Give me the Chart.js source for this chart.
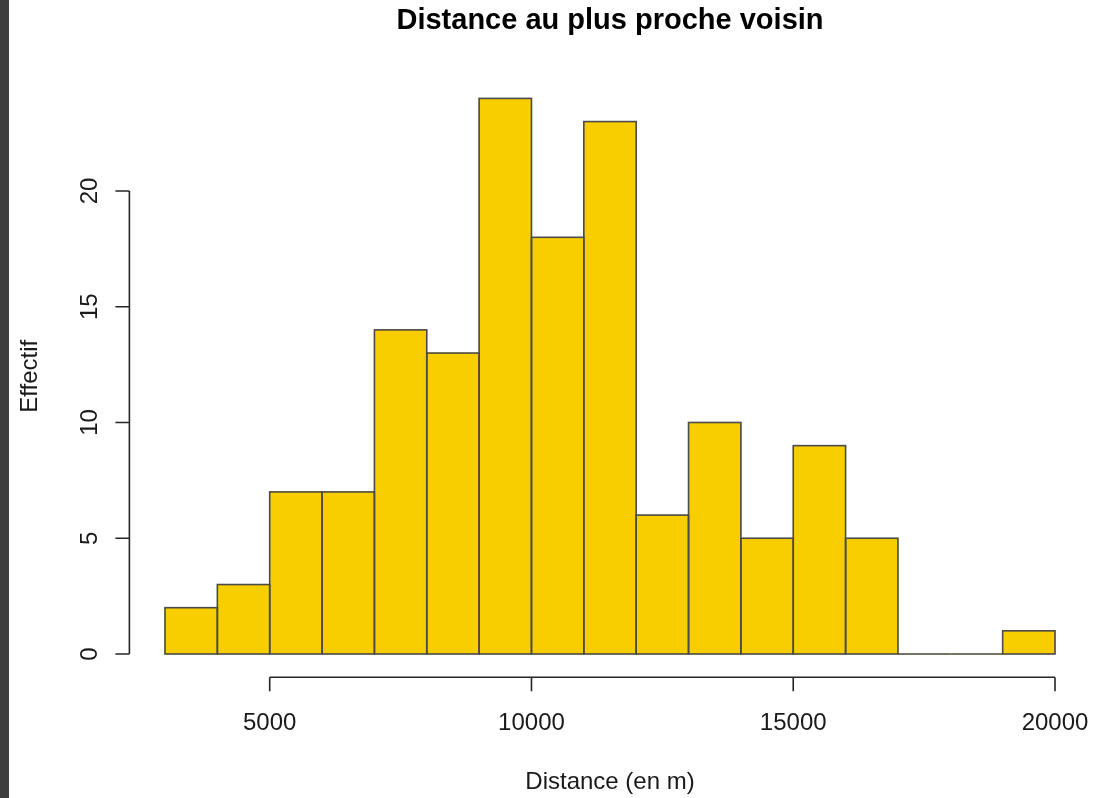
<!DOCTYPE html>
<html lang="fr">
<head>
<meta charset="utf-8">
<title>Distance au plus proche voisin</title>
<script src="https://cdn.jsdelivr.net/npm/chart.js@4/dist/chart.umd.min.js"></script>
<style>
  html, body { margin: 0; padding: 0; background: #ffffff; overflow: hidden; }
  #wrap { position: relative; width: 1094px; height: 798px; }
  #edge { position: absolute; left: 0; top: 0; width: 9px; height: 798px; background: #3e3e3e; }
  canvas { position: absolute; left: 0; top: 0; }
</style>
</head>
<body>
<div id="wrap">
  <canvas id="hist" width="1094" height="798"></canvas>
  <div id="edge"></div>
</div>
<script>
// Histogram classes (metres) and their counts
const binStarts = [3000, 4000, 5000, 6000, 7000, 8000, 9000, 10000, 11000, 12000, 13000, 14000, 15000, 16000, 17000, 18000, 19000];
const binWidth = 1000;
const counts = [2, 3, 7, 7, 14, 13, 24, 18, 23, 6, 10, 5, 9, 5, 0, 0, 1];
const xTicks = [5000, 10000, 15000, 20000];
const yTicks = [0, 5, 10, 15, 20];

const titleText = 'Distance au plus proche voisin';
const xLabel = 'Distance (en m)';
const yLabel = 'Effectif';

const FONT = '"Liberation Sans", Arial, sans-serif';
const INK = '#262626';

// plotting range padded by 4% on each side, as base R graphics does
const xLo = binStarts[0], xHi = binStarts[binStarts.length - 1] + binWidth;
const yLo = 0, yHi = Math.max(...counts);
const xPad = (xHi - xLo) * 0.04, yPad = (yHi - yLo) * 0.04;

const points = binStarts.map((s, i) => ({ x: s + binWidth / 2, y: counts[i] }));

// outlines every bar (including empty classes) and draws R-style axes and labels
const baseAxes = {
  id: 'baseAxes',
  afterDatasetsDraw(chart) {
    const ctx = chart.ctx;
    const xs = chart.scales.x, ys = chart.scales.y;
    const area = chart.chartArea;

    ctx.save();
    ctx.strokeStyle = '#4a4a4a';
    ctx.lineWidth = 1.6;
    chart.getDatasetMeta(0).data.forEach(bar => {
      const p = bar.getProps(['x', 'y', 'base', 'width'], true);
      ctx.strokeRect(p.x - p.width / 2, Math.min(p.y, p.base), p.width, Math.abs(p.base - p.y));
    });
    ctx.restore();

    ctx.save();
    ctx.strokeStyle = INK;
    ctx.lineWidth = 1.6;
    ctx.fillStyle = '#1a1a1a';
    const tick = 14;

    // x axis
    const xb = area.bottom + 1;
    const x0 = xs.getPixelForValue(xTicks[0]);
    const x1 = xs.getPixelForValue(xTicks[xTicks.length - 1]);
    ctx.beginPath();
    ctx.moveTo(x0, xb); ctx.lineTo(x1, xb);
    xTicks.forEach(v => {
      const px = xs.getPixelForValue(v);
      ctx.moveTo(px, xb); ctx.lineTo(px, xb + tick);
    });
    ctx.stroke();
    ctx.font = '24px ' + FONT;
    ctx.textAlign = 'center';
    ctx.textBaseline = 'alphabetic';
    xTicks.forEach(v => ctx.fillText(String(v), xs.getPixelForValue(v), 730));

    // y axis
    const yl = area.left;
    const y0 = ys.getPixelForValue(yTicks[0]);
    const y1 = ys.getPixelForValue(yTicks[yTicks.length - 1]);
    ctx.beginPath();
    ctx.moveTo(yl, y0); ctx.lineTo(yl, y1);
    yTicks.forEach(v => {
      const py = ys.getPixelForValue(v);
      ctx.moveTo(yl, py); ctx.lineTo(yl - tick, py);
    });
    ctx.stroke();
    yTicks.forEach(v => {
      ctx.save();
      ctx.translate(97, ys.getPixelForValue(v));
      ctx.rotate(-Math.PI / 2);
      ctx.fillText(String(v), 0, 0);
      ctx.restore();
    });

    // axis titles
    const cx = (area.left + area.right) / 2;
    const cy = (area.top + area.bottom) / 2;
    ctx.fillText(xLabel, cx, 789);
    ctx.save();
    ctx.translate(37, cy);
    ctx.rotate(-Math.PI / 2);
    ctx.fillText(yLabel, 0, 0);
    ctx.restore();

    // main title
    ctx.font = 'bold 29px ' + FONT;
    ctx.fillStyle = '#000000';
    ctx.fillText(titleText, cx, 29);
    ctx.restore();
  }
};

new Chart(document.getElementById('hist'), {
  type: 'bar',
  data: {
    datasets: [{
      data: points,
      backgroundColor: '#F9CE00',
      borderWidth: 0,
      barPercentage: 1,
      categoryPercentage: 1
    }]
  },
  options: {
    responsive: false,
    animation: false,
    events: [],
    layout: { padding: { left: 129.4, right: 3.4, top: 76.2, bottom: 121.8 } },
    plugins: { legend: { display: false }, tooltip: { enabled: false }, title: { display: false } },
    scales: {
      x: { type: 'linear', min: xLo - xPad, max: xHi + xPad, display: false, offset: false },
      y: { type: 'linear', min: yLo - yPad, max: yHi + yPad, display: false }
    }
  },
  plugins: [baseAxes]
});
</script>
</body>
</html>
